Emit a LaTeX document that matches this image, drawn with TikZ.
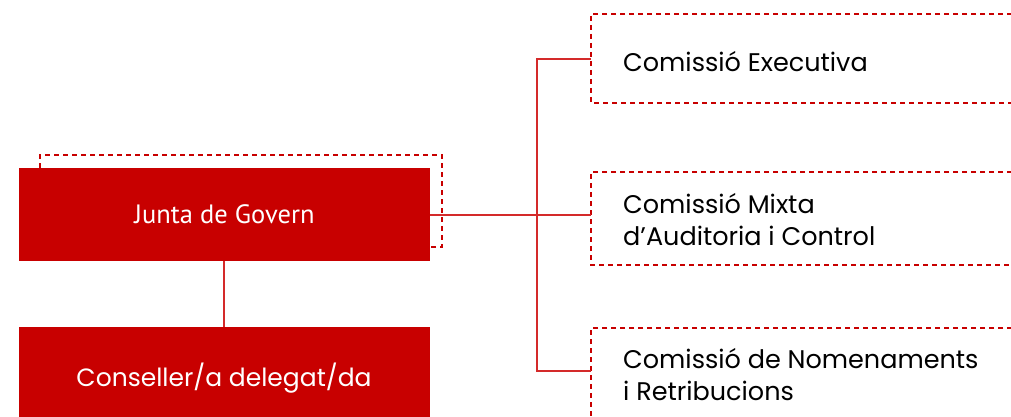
\documentclass[tikz,border=0pt]{standalone}
\usepackage{fontspec}
\newfontfamily\wsfont{Poppins}
\newfontfamily\myfont{PT Sans}
\definecolor{cxred}{HTML}{C80000}
\definecolor{cxline}{HTML}{D42A2A}
\begin{document}
\begin{tikzpicture}[x=1pt,y=-1pt,
  solidbox/.style={fill=cxred, text=white, inner sep=0pt, outer sep=0pt, anchor=north west},
  dbox/.style={draw=cxred, dashed, dash pattern=on 5pt off 4pt, line width=1.1pt},
  conn/.style={draw=cxline, line width=1.2pt},
  ctext/.style={anchor=west, align=left, inner sep=0pt, font=\wsfont\fontsize{25.5}{32}\selectfont, text=black},
  hole/.style={inner sep=0pt, outer sep=0pt, anchor=north west}]
\useasboundingbox (0,0) rectangle (1011,417);
% dashed shadow of Junta
\draw[dbox] (40,168) -- (40,155) -- (442,155) -- (442,247) -- (430,247);
% solid boxes
\node[solidbox, minimum width=411pt, minimum height=93pt] (junta) at (19,168)
  {\myfont\fontsize{26.5}{30}\selectfont Junta de Govern};
\node[solidbox, minimum width=411pt, minimum height=90pt, text depth=0pt] (cons) at (19,327) {};
\node[text=white, inner sep=0pt, font=\wsfont\fontsize{25}{28}\selectfont] (tcons) at (224,378) {Conseller/a delegat/da};
% right dashed boxes (open to the right)
\node[hole, minimum width=421pt, minimum height=89pt] (ce) at (591,14) {};
\node[hole, minimum width=421pt, minimum height=93pt] (cm) at (591,172) {};
\node[hole, minimum width=421pt, minimum height=100pt] (cn) at (591,328) {};
\draw[dbox] (ce.north east) -- (ce.north west) -- (ce.south west) -- (ce.south east);
\draw[dbox] (cm.north east) -- (cm.north west) -- (cm.south west) -- (cm.south east);
\draw[dbox] (cn.north east) -- (cn.north west) -- (cn.south west);
% texts
\node[ctext] (tce) at (623,62) {Comissió Executiva};
\node[ctext] (tcm) at (623,220) {Comissió Mixta\\d’Auditoria i Control};
\node[ctext] (tcn) at (623,375) {Comissió de Nomenaments\\i Retribucions};
% connectors
\coordinate (bus) at (537,215);
\draw[conn] (junta.east |- bus) -- (cm.west |- bus);
\draw[conn] (ce.west |- 0,59) -| (537,371) -- (cn.west |- 0,371);
\draw[conn] (junta.south -| 224,0) -- (cons.north -| 224,0);
\end{tikzpicture}
\end{document}
